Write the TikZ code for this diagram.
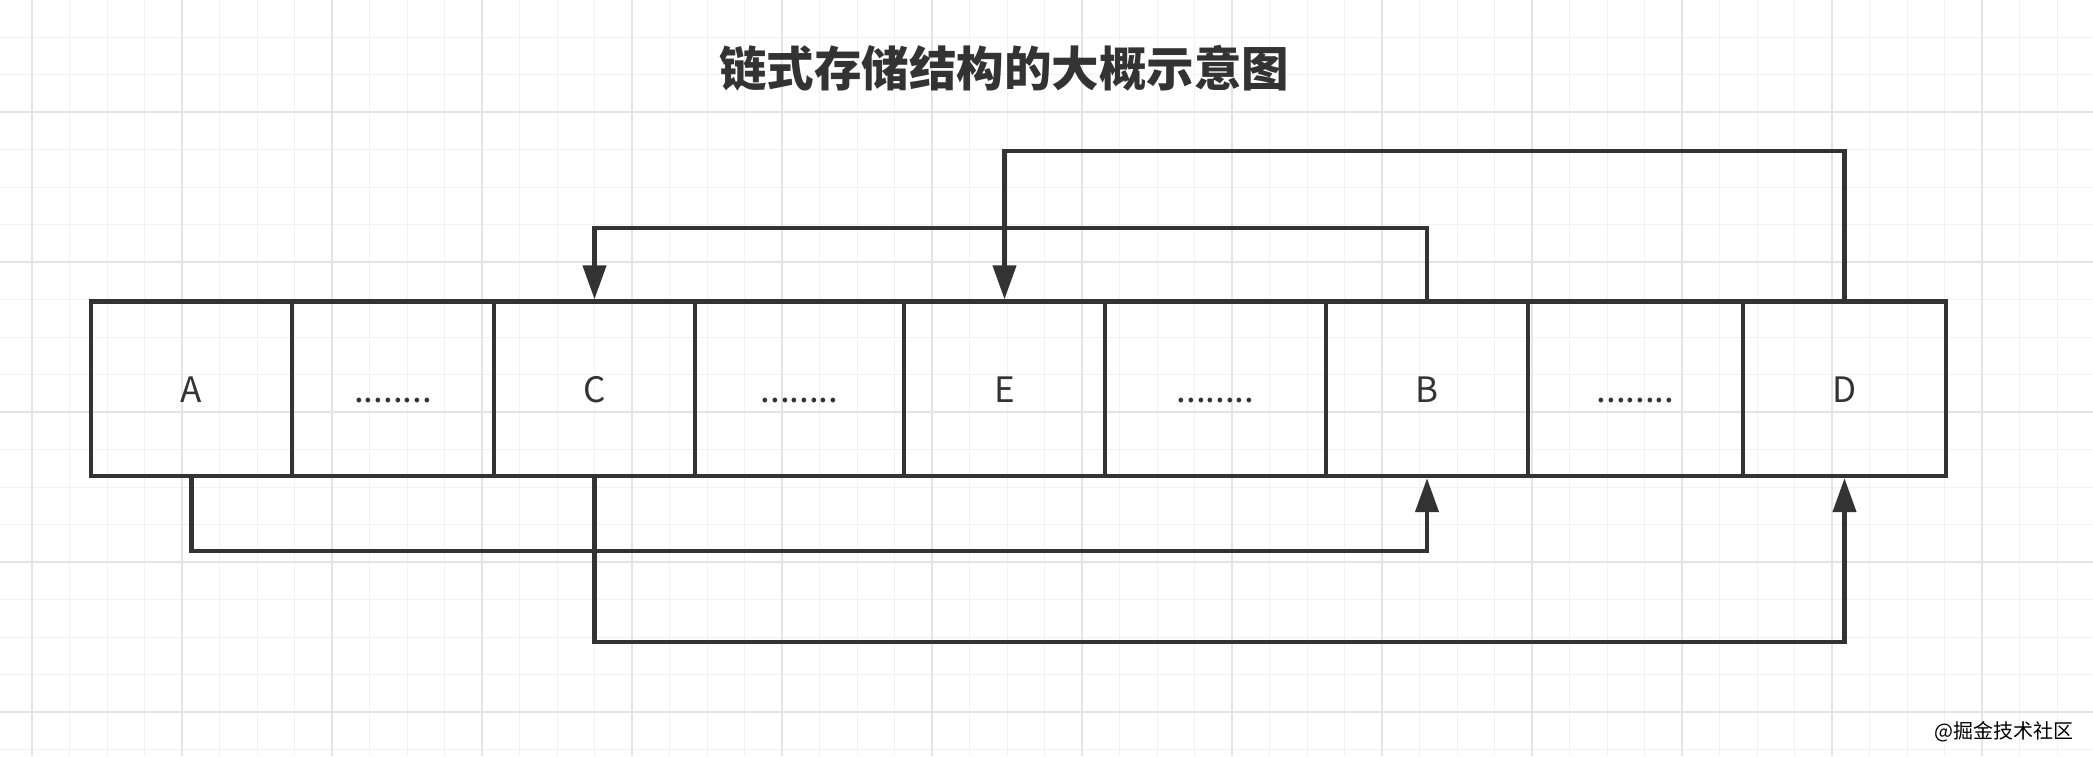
\documentclass[tikz,border=0pt]{standalone}
\usepackage{fontspec}
\newfontfamily\cjk{Noto Sans CJK SC}
\usetikzlibrary{arrows.meta}
\definecolor{ink}{HTML}{333333}
\definecolor{gridminor}{HTML}{F2F2F2}
\definecolor{gridmajor}{HTML}{E4E4E4}

\begin{document}
\begin{tikzpicture}[
  x=1pt,y=-1pt,
  every node/.style={font=\cjk\fontsize{35}{40}\selectfont,text=ink},
  cell/.style={draw=ink,line width=4.4pt,rectangle,minimum height=174.5pt,inner sep=0pt,text height=28pt,text depth=0pt},
  link/.style={draw=ink,line width=4.4pt,-{Triangle[length=34pt,width=23pt]}},
  minorline/.style={draw=gridminor,line width=1pt},
  majorline/.style={draw=gridmajor,line width=1.6pt}
]
\useasboundingbox[fill=white] (0,0) rectangle (2093,756);

% background grid
\foreach \gx in {32,69.5,...,2093} \draw[minorline] (\gx,0) -- (\gx,756);
\foreach \gy in {-0.5,37,...,756} \draw[minorline] (0,\gy) -- (2093,\gy);
\foreach \gx in {32,182,...,2093} \draw[majorline] (\gx,0) -- (\gx,756);
\foreach \gy in {112,262,...,756} \draw[majorline] (0,\gy) -- (2093,\gy);

\node (title) at (1004,68) {\fontsize{47.5}{52}\selectfont\bfseries 链式存储结构的大概示意图};

% the memory cells
\node[cell,minimum width=201pt] (A) at (191.5,388.75) {A};
\node[cell,minimum width=202pt] (gap1) at (393,388.75) {........};
\node[cell,minimum width=201pt] (C) at (594.5,388.75) {C};
\node[cell,minimum width=209pt] (gap2) at (799.5,388.75) {........};
\node[cell,minimum width=201pt] (E) at (1004.5,388.75) {E};
\node[cell,minimum width=221pt] (gap3) at (1215.5,388.75) {........};
\node[cell,minimum width=202pt] (B) at (1427,388.75) {B};
\node[cell,minimum width=215pt] (gap4) at (1635.5,388.75) {........};
\node[cell,minimum width=203pt] (D) at (1844.5,388.75) {D};

% heights of the bends
\coordinate (upper1) at (0,228);
\coordinate (upper2) at (0,151);
\coordinate (lower1) at (0,551);
\coordinate (lower2) at (0,642);

\draw[link] (B.north) -- (B.north |- upper1) -| (C.north);
\draw[link] (D.north) -- (D.north |- upper2) -| (E.north);
\draw[link] (A.south) -- (A.south |- lower1) -| (B.south);
\draw[link] (C.south) -- (C.south |- lower2) -| (D.south);

\node[font=\cjk\fontsize{20}{22}\selectfont,text=black] (mark) at (2004,732) {@掘金技术社区};
\end{tikzpicture}
\end{document}
